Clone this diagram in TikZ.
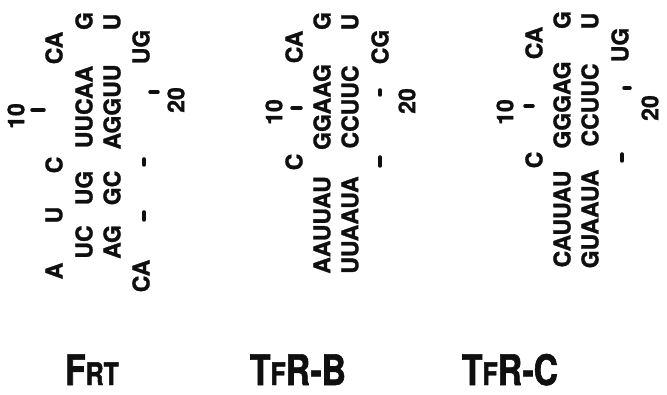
\documentclass[tikz,border=0pt]{standalone}
\usepackage{fontspec}
\setmainfont{TeX Gyre Heros}
\newfontfamily\NuclFont{TeX Gyre Heros}[BoldFeatures={FakeBold=1.2}]
\newfontfamily\NameFont{TeX Gyre Heros}[FakeStretch=0.8,BoldFeatures={FakeBold=1.5}]
\usepackage{tikz}
\definecolor{ColInk}{RGB}{15,15,15}
\newcommand{\LoCap}[1]{{\fontsize{31}{31}\selectfont #1}}
\tikzstyle{Nucl}=[rotate=90,inner sep=0pt,text=ColInk,
font=\NuclFont\fontsize{23}{23}\selectfont\bfseries]
\tikzstyle{Tick}=[ColInk,line width=3.5pt,line cap=round]
\tikzstyle{Name}=[anchor=base,inner sep=0pt,text=ColInk,
font=\NameFont\fontsize{42}{42}\selectfont\bfseries]

\begin{document}
\begin{tikzpicture}[x=1pt,y=-1pt]
    \useasboundingbox (0,0) rectangle (667,395);
    % FRT
        \node[Nucl](f10)at(16,116){10};
        \node[Nucl](fA)at(54,271){A};
        \node[Nucl](fU)at(54,215){U};
        \node[Nucl](fC)at(54,165){C};
        \node[Nucl](fCAt)at(54,48){CA};
        \node[Nucl](fUC)at(84,242){UC};
        \node[Nucl](fUG)at(84,188){UG};
        \node[Nucl](fUUCAA)at(84,107){UUCAA};
        \node[Nucl](fG)at(84,21){G};
        \node[Nucl](fAG)at(112,242){AG};
        \node[Nucl](fGC)at(112,188){GC};
        \node[Nucl](fAGGUU)at(112,107){AGGUU};
        \node[Nucl](fU2)at(112,22){U};
        \node[Nucl](fCAb)at(141,276){CA};
        \node[Nucl](fUG2)at(141,47){UG};
        \node[Nucl](f20)at(176,100){20};
        \draw[Tick](32,110)--(44,110);
        \draw[Tick](144,212)--(144,220);
        \draw[Tick](144,159)--(144,165);
        \draw[Tick](150,92)--(158,92);
        \node[Name](fName)at(92,385){F\LoCap{RT}};
    % TfR-B
        \node[Nucl](b10)at(274,112){10};
        \node[Nucl](bCAt)at(294,47){CA};
        \node[Nucl](bC)at(294,162){C};
        \node[Nucl](bG)at(322,21){G};
        \node[Nucl](bGGAAG)at(322,107){GGAAG};
        \node[Nucl](bAAUUAU)at(322,225){AAUUAU};
        \node[Nucl](bU)at(350,22){U};
        \node[Nucl](bCCUUC)at(350,107){CCUUC};
        \node[Nucl](bUUAAUA)at(350,225){UUAAUA};
        \node[Nucl](bCG)at(380,47){CG};
        \node[Nucl](b20)at(407,101){20};
        \draw[Tick](292,108)--(301,108);
        \draw[Tick](380,90)--(380,95);
        \draw[Tick](380,157)--(380,166);
        \node[Name](bName)at(298,385){T\LoCap{F}R-B};
    % TfR-C
        \node[Nucl](c10)at(505,112){10};
        \node[Nucl](cCAt)at(534,43){CA};
        \node[Nucl](cC)at(534,160){C};
        \node[Nucl](cG)at(562,20){G};
        \node[Nucl](cGGGAG)at(562,105){GGGAG};
        \node[Nucl](cCAUUAU)at(562,219){CAUUAU};
        \node[Nucl](cU)at(590,21){U};
        \node[Nucl](cCCUUC)at(590,105){CCUUC};
        \node[Nucl](cGUAAUA)at(590,219){GUAAUA};
        \node[Nucl](cUG)at(620,45){UG};
        \node[Nucl](c20)at(650,108){20};
        \draw[Tick](525,106)--(533,106);
        \draw[Tick](624,88)--(630,88);
        \draw[Tick](622,154)--(622,161);
        \node[Name](cName)at(510,385){T\LoCap{F}R-C};
\end{tikzpicture}
\end{document}
